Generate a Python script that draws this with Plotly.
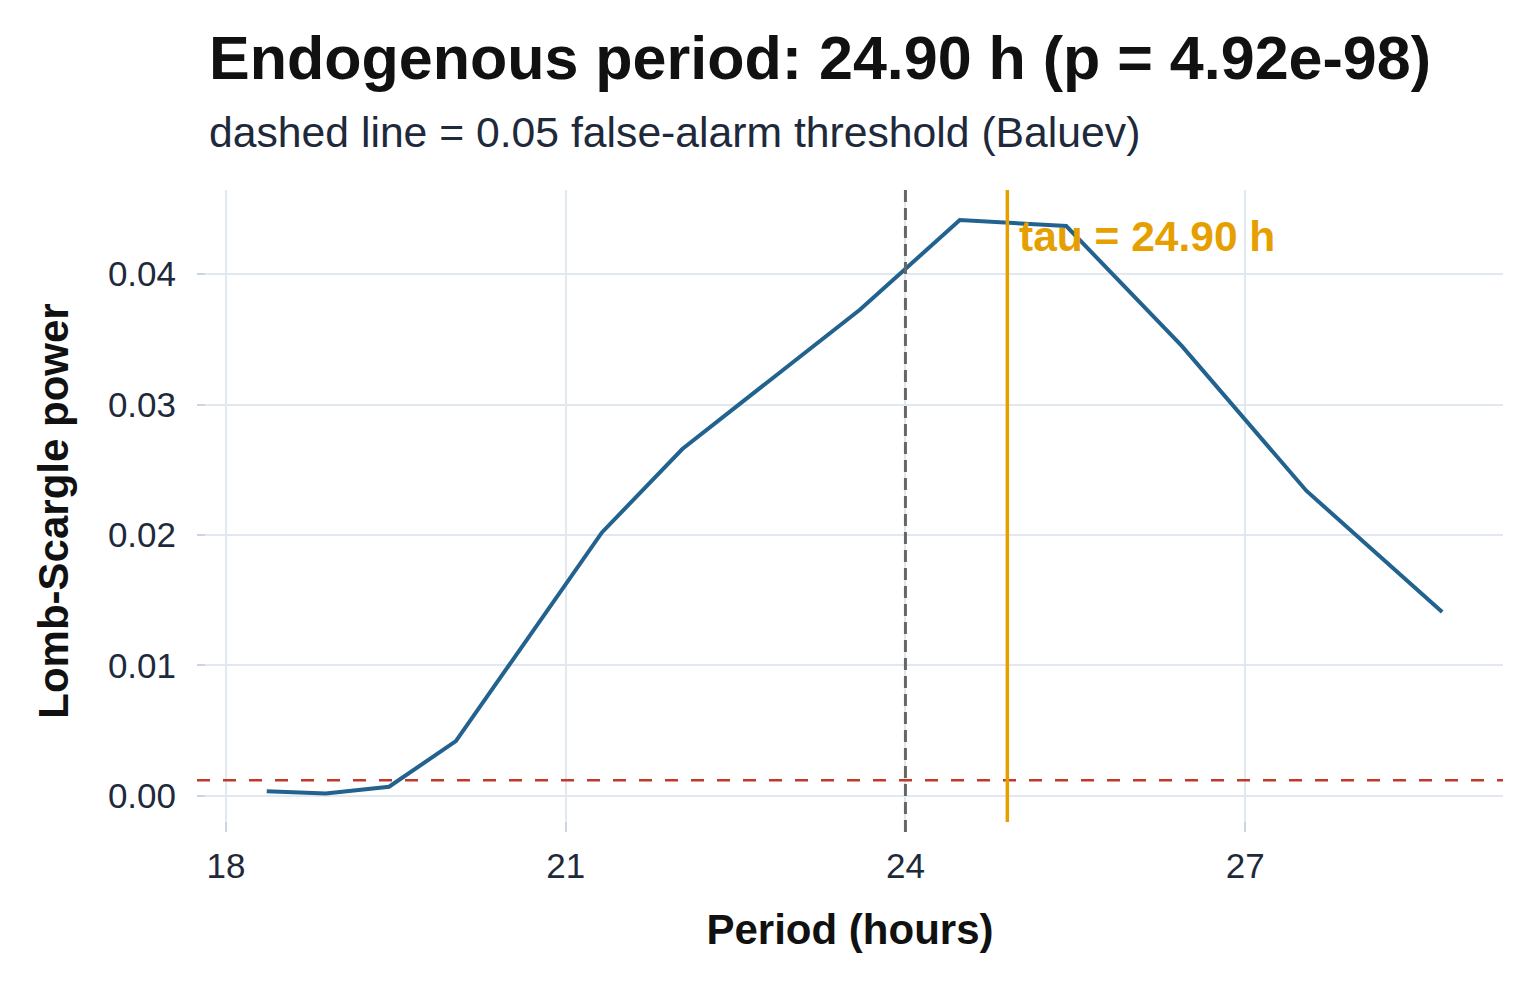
import plotly.graph_objects as go

# Data
period_hours = [18.36, 18.88, 19.44, 20.03, 21.32, 22.03, 23.60, 24.48, 25.42, 26.44, 27.54, 28.74]
ls_power = [0.00035, 0.00018, 0.0007, 0.0042, 0.0202, 0.0266, 0.0373, 0.04415, 0.0437, 0.0345, 0.0234, 0.0141]
fap_threshold = 0.0012
tau = 24.90
reference_period = 24
x_ticks = [18, 21, 24, 27]
y_ticks = [0.00, 0.01, 0.02, 0.03, 0.04]
y_tick_labels = ["0.00", "0.01", "0.02", "0.03", "0.04"]

title_text = "Endogenous period: 24.90 h (p = 4.92e-98)"
subtitle_text = "dashed line = 0.05 false-alarm threshold (Baluev)"

FONT = "Liberation Sans, Arial, sans-serif"
x_range = [17.744, 29.277]
y_range = [-0.00277, 0.04646]

W, H = 1540, 990
pl, pr, pt, pb = 197, 37, 190, 158
pw, ph = W - pl - pr, H - pt - pb


def px_to_paper(x, y):
    return (x - pl) / pw, (H - pb - y) / ph


fig = go.Figure()
fig.add_trace(go.Scatter(
    x=period_hours, y=ls_power, mode="lines",
    line=dict(color="#22628F", width=4), showlegend=False, hoverinfo="x+y",
))

# threshold (horizontal red dashed)
fig.add_shape(type="line", xref="paper", yref="y", x0=0, x1=1,
              y0=fap_threshold, y1=fap_threshold,
              line=dict(color="#C0392B", width=2.5, dash="13px,13px"))
# 24 h reference (gray dashed)
fig.add_shape(type="line", xref="x", yref="paper", x0=reference_period, x1=reference_period,
              y0=0, y1=1, line=dict(color="#666666", width=3, dash="12px,6px"))
# tau line
fig.add_shape(type="line", xref="x", yref="y", x0=tau, x1=tau,
              y0=-0.002, y1=y_range[1],
              line=dict(color="#E69F00", width=3.5))

fig.add_annotation(x=tau, y=0.0429, xref="x", yref="y", text=f"tau = {tau:.2f} h",
                   showarrow=False, xanchor="left", yanchor="middle", xshift=10,
                   font=dict(family=FONT, size=42.5, color="#E69F00", weight="bold"))

tx, ty = px_to_paper(207, 94)
fig.add_annotation(x=tx, y=ty, xref="paper", yref="paper", text=title_text,
                   showarrow=False, xanchor="left", yanchor="bottom",
                   font=dict(family=FONT, size=61, color="#111111", weight="bold"))
sx, sy = px_to_paper(207, 158)
fig.add_annotation(x=sx, y=sy, xref="paper", yref="paper", text=subtitle_text,
                   showarrow=False, xanchor="left", yanchor="bottom",
                   font=dict(family=FONT, size=42.7, color="#1E293B"))

fig.update_layout(
    width=W, height=H,
    paper_bgcolor="white", plot_bgcolor="white",
    margin=dict(l=pl, r=pr, t=pt, b=pb),
    font=dict(family=FONT, color="#1E293B"),
)

fig.update_xaxes(
    range=x_range, tickvals=x_ticks, ticktext=[str(v) for v in x_ticks],
    showgrid=True, gridcolor="#E2E8F0", gridwidth=2, zeroline=False, showline=False,
    ticks="inside", ticklen=10, tickwidth=2, tickcolor="#CBD5E1",
    tickfont=dict(family=FONT, size=35, color="#1E293B"), ticklabelstandoff=10,
    title=dict(text="<b>Period (hours)</b>", font=dict(family=FONT, size=42, color="#111111"), standoff=30),
)
fig.update_yaxes(
    range=y_range, tickvals=y_ticks, ticktext=y_tick_labels,
    showgrid=True, gridcolor="#E2E8F0", gridwidth=2, zeroline=False, showline=False,
    ticks="inside", ticklen=8, tickwidth=2, tickcolor="#CBD5E1",
    tickfont=dict(family=FONT, size=35, color="#1E293B"), ticklabelstandoff=20,
    title=dict(text="<b>Lomb-Scargle power</b>", font=dict(family=FONT, size=42, color="#111111"), standoff=26),
)

fig.write_html("out.html")
